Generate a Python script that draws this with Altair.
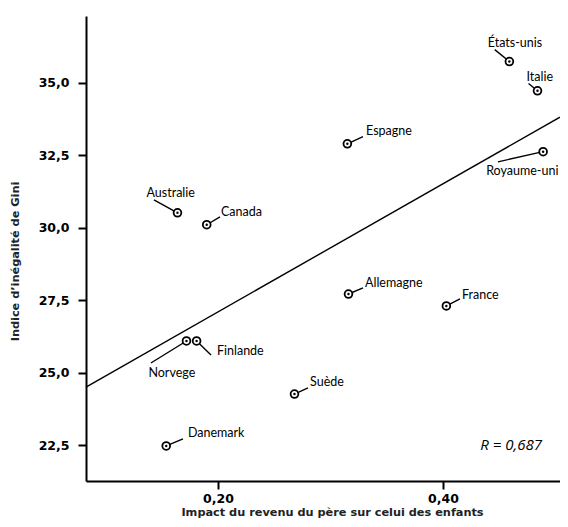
import altair as alt
import pandas as pd

countries = ["Australie", "Canada", "États-unis", "Italie", "Espagne", "Royaume-uni",
             "Norvege", "Finlande", "Danemark", "Suède", "Allemagne", "France"]
father_impact = [0.164, 0.190, 0.459, 0.484, 0.315, 0.489,
                 0.172, 0.181, 0.154, 0.268, 0.316, 0.403]
gini = [30.51, 30.10, 35.73, 34.72, 32.89, 32.62,
        26.09, 26.09, 22.47, 24.26, 27.71, 27.30]
# label anchors and leader-line ends (data units)
label_x = [0.158, 0.2027, 0.464, 0.486, 0.3316, 0.4705,
           0.159, 0.1991, 0.1733, 0.2818, 0.3307, 0.4169]
label_y = [31.20, 30.55, 36.38, 35.21, 33.34, 31.96,
           24.99, 25.75, 22.91, 24.68, 28.09, 27.68]
leader_x = [0.1431, 0.2018, 0.446, 0.476, 0.3289, 0.4489,
            0.1404, 0.1938, 0.1689, 0.2800, 0.3289, 0.4151]
leader_y = [30.96, 30.37, 36.14, 34.97, 33.14, 32.27,
            25.33, 25.61, 22.71, 24.47, 27.92, 27.54]
label_align = ["center", "left", "center", "center", "left", "center",
               "center", "left", "left", "left", "left", "left"]

fit_x = [0.0827, 0.504]
fit_y = [24.50, 33.81]

r_text = ["R = 0,687"]
r_x = [0.488]
r_y = [22.5]

x_ticks = [0.20, 0.40]
y_ticks = [22.5, 25.0, 27.5, 30.0, 32.5, 35.0]
x_domain = [0.0827, 0.504]
y_domain = [21.26, 37.3]

df = pd.DataFrame({
    "country": countries, "x": father_impact, "y": gini,
    "lx": label_x, "ly": label_y, "ex": leader_x, "ey": leader_y,
    "align": label_align,
})
fit = pd.DataFrame({"x": fit_x, "y": fit_y})
rdf = pd.DataFrame({"t": r_text, "x": r_x, "y": r_y})

FONT = "Lato"
AXFONT = "DejaVu Sans"

xs = alt.Scale(domain=x_domain, nice=False, zero=False)
ys = alt.Scale(domain=y_domain, nice=False, zero=False)

x_axis = alt.Axis(values=x_ticks, format=".2f", labelExpr="replace(datum.label, '.', ',')",
                  title="Impact du revenu du père sur celui des enfants",
                  titleX=246, titleY=31, titleBaseline="middle", titleAnchor="middle",
                  labelPadding=3)
y_axis = alt.Axis(values=y_ticks, format=".1f", labelExpr="replace(datum.label, '.', ',')",
                  title="Indice d’inégalité de Gini", titleAngle=-90,
                  titleX=-71, titleY=245, titleBaseline="middle", titleAlign="center",
                  labelPadding=9)

base = alt.Chart(df)

line = alt.Chart(fit).mark_line(color="black", strokeWidth=1.4).encode(
    x=alt.X("x:Q", scale=xs, axis=x_axis),
    y=alt.Y("y:Q", scale=ys, axis=y_axis),
)

leaders = base.mark_rule(color="black", strokeWidth=1.4).encode(
    x=alt.X("x:Q", scale=xs), y=alt.Y("y:Q", scale=ys),
    x2="ex:Q", y2="ey:Q",
)

rings = base.mark_point(shape="circle", filled=True, fill="white", stroke="black",
                        strokeWidth=1.8, size=60, opacity=1).encode(
    x=alt.X("x:Q", scale=xs), y=alt.Y("y:Q", scale=ys),
)
dots = base.mark_point(shape="circle", filled=True, color="black", size=6, opacity=1).encode(
    x=alt.X("x:Q", scale=xs), y=alt.Y("y:Q", scale=ys),
)

lab_c = base.transform_filter("datum.align == 'center'").mark_text(
    align="center", baseline="middle", font=FONT, fontSize=12.5, color="black").encode(
    x=alt.X("lx:Q", scale=xs), y=alt.Y("ly:Q", scale=ys), text="country:N")
lab_l = base.transform_filter("datum.align == 'left'").mark_text(
    align="left", baseline="middle", font=FONT, fontSize=12.5, color="black").encode(
    x=alt.X("lx:Q", scale=xs), y=alt.Y("ly:Q", scale=ys), text="country:N")

rlab = alt.Chart(rdf).mark_text(align="right", baseline="middle", font="Open Sans",
                                fontStyle="italic", fontSize=15, color="black").encode(
    x=alt.X("x:Q", scale=xs), y=alt.Y("y:Q", scale=ys), text="t:N")

chart = alt.layer(line, leaders, rings, dots, lab_c, lab_l, rlab).properties(
    width=474, height=465,
    padding={"left": 78, "top": 8, "right": 0, "bottom": 38},
    autosize=alt.AutoSizeParams(type="none"),
    background="white",
).configure_view(stroke=None).configure_axis(
    grid=False, domainColor="black", domainWidth=2, tickColor="black", tickWidth=2,
    tickSize=8, labelFont=AXFONT, labelFontWeight="bold", labelFontSize=12.5,
    labelColor="black", titleFont=AXFONT, titleFontWeight="bold", titleFontSize=11.3,
    titleColor="#222",
)

chart.save("out.html", embed_options={"renderer": "svg", "actions": False})
